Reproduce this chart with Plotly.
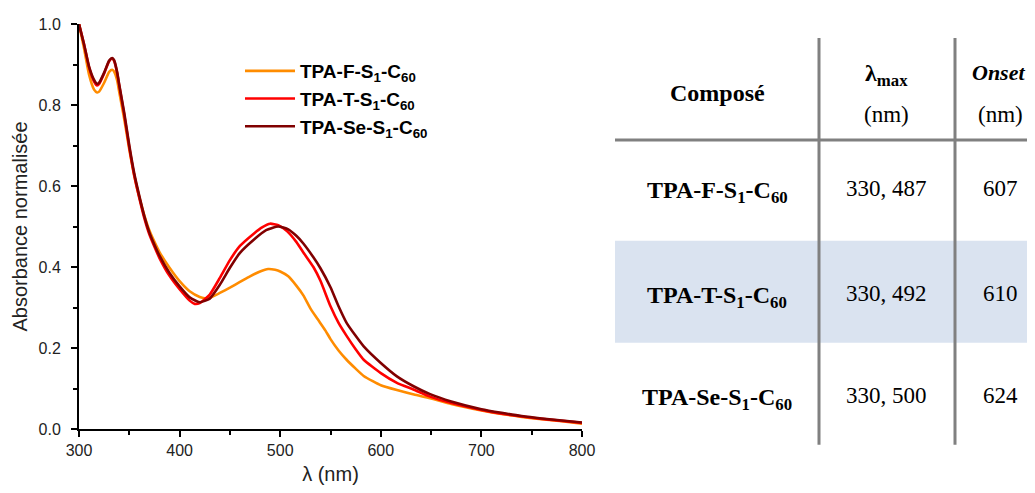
import plotly.graph_objects as go

# ---------------- data ----------------
wl_F = [300, 305, 310, 315, 318, 320, 325, 330, 333, 335, 338, 340, 345, 350, 355, 360, 365, 370, 375, 380,
        390, 400, 410, 420, 425, 430, 440, 450, 460, 470, 480, 488, 495, 500, 508, 516, 523, 530, 537, 545,
        550, 558, 566, 575, 583, 592, 600, 616, 633, 649, 670, 700, 720, 740, 760, 780, 800]
abs_F = [1.0, 0.94, 0.875, 0.838, 0.831, 0.833, 0.855, 0.882, 0.887, 0.882, 0.86, 0.832, 0.765, 0.69, 0.625,
         0.572, 0.527, 0.49, 0.462, 0.437, 0.398, 0.365, 0.34, 0.326, 0.323, 0.324, 0.336, 0.349, 0.363, 0.377,
         0.389, 0.395, 0.393, 0.389, 0.377, 0.354, 0.330, 0.298, 0.272, 0.243, 0.222, 0.194, 0.171, 0.149,
         0.131, 0.118, 0.108, 0.096, 0.085, 0.076, 0.062, 0.046, 0.037, 0.030, 0.024, 0.019, 0.013]

wl_T = [300, 305, 310, 315, 318, 320, 325, 330, 333, 335, 338, 340, 345, 350, 355, 360, 365, 370, 375, 380,
        390, 400, 410, 415, 420, 430, 440, 450, 460, 474, 482, 490, 498, 507, 516, 523, 533, 540, 550,
        558, 566, 575, 583, 600, 616, 633, 649, 670, 700, 720, 740, 760, 780, 800]
abs_T = [1.0, 0.95, 0.893, 0.858, 0.848, 0.852, 0.878, 0.908, 0.915, 0.908, 0.878, 0.848, 0.775, 0.695, 0.625,
         0.57, 0.52, 0.48, 0.45, 0.422, 0.378, 0.345, 0.317, 0.309, 0.311, 0.332, 0.373, 0.417, 0.452, 0.483,
         0.498, 0.507, 0.503, 0.488, 0.462, 0.436, 0.400, 0.366, 0.303, 0.262, 0.230, 0.197, 0.171, 0.138,
         0.114, 0.097, 0.080, 0.064, 0.047, 0.038, 0.031, 0.025, 0.020, 0.015]

wl_Se = [300, 305, 310, 315, 318, 320, 325, 330, 333, 335, 338, 340, 345, 350, 355, 360, 365, 370, 375, 380,
         390, 400, 410, 420, 430, 440, 450, 460, 474, 486, 498, 508, 516, 523, 533, 540, 550,
         558, 566, 575, 583, 600, 616, 633, 649, 670, 700, 720, 740, 760, 780, 800]
abs_Se = [1.0, 0.95, 0.895, 0.862, 0.852, 0.855, 0.88, 0.91, 0.916, 0.91, 0.88, 0.85, 0.78, 0.70, 0.63,
          0.575, 0.525, 0.485, 0.455, 0.428, 0.385, 0.352, 0.325, 0.313, 0.322, 0.356, 0.398, 0.435, 0.468,
          0.491, 0.500, 0.493, 0.477, 0.458, 0.424, 0.397, 0.350, 0.303, 0.262, 0.230, 0.204, 0.163, 0.130,
          0.105, 0.086, 0.068, 0.049, 0.040, 0.032, 0.026, 0.021, 0.016]

series_names = ["TPA-F-S<sub>1</sub>-C<sub>60</sub>",
                "TPA-T-S<sub>1</sub>-C<sub>60</sub>",
                "TPA-Se-S<sub>1</sub>-C<sub>60</sub>"]
series_colors = ["#FF8C00", "#FF0000", "#800000"]

# table content
table_header = ["Composé", "λ<sub>max</sub>", "<i>Onset</i>"]
table_units = ["", "(nm)", "(nm)"]
compounds = ["TPA-F-S<sub>1</sub>-C<sub>60</sub>",
             "TPA-T-S<sub>1</sub>-C<sub>60</sub>",
             "TPA-Se-S<sub>1</sub>-C<sub>60</sub>"]
lambda_max = ["330, 487", "330, 492", "330, 500"]
onset = ["607", "610", "624"]

# ---------------- figure ----------------
OFF = 8                      # default page body margin
W, H = 1035 - 2 * OFF, 493 - 2 * OFF
L, R, T = 79 - OFF, 0, 24 - OFF
plot_right = 582 - OFF
plot_bottom = 429.3 - OFF
B = H - plot_bottom
dom_end = (plot_right - L) / (W - L - R)
ph = H - T - B

def px_x(p):                 # page pixel -> paper x
    return min((p - OFF - L) / (W - L - R), 1.0)

def px_y(p):                 # page pixel -> paper y
    return (H - B - (p - OFF)) / ph

fig = go.Figure()
for i, (wl, ab, nm, col) in enumerate(zip([wl_F, wl_T, wl_Se], [abs_F, abs_T, abs_Se],
                                            series_names, series_colors)):
    fig.add_trace(go.Scatter(x=wl, y=ab, mode="lines", name=nm, legendgroup="g%d" % i,
                             line=dict(color=col, width=2.6, shape="spline", smoothing=0.5)))

axis_common = dict(showline=True, linecolor="black", linewidth=2, ticks="outside", ticklen=6,
                   tickwidth=2, tickcolor="black", showgrid=False, zeroline=False, automargin=False,
                   tickfont=dict(family="Liberation Sans, Arial", size=16, color="#222"))

fig.update_layout(
    width=W, height=H,
    margin=dict(l=L, r=R, t=T, b=B, autoexpand=False),
    paper_bgcolor="white", plot_bgcolor="white",
    showlegend=True,
    legend=dict(x=px_x(240), y=px_y(52), xanchor="left", yanchor="top",
                bgcolor="rgba(0,0,0,0)", borderwidth=0, itemwidth=50,
                font=dict(family="Liberation Sans, Arial", size=19, color="black", weight="bold"),
                tracegroupgap=0),
    xaxis=dict(domain=[0, dom_end], range=[300, 800], dtick=100,
               minor=dict(dtick=50, ticks="outside", ticklen=4, tickwidth=2, tickcolor="black"),
               title=dict(text="λ (nm)", font=dict(family="Liberation Sans, Arial", size=20, color="#222"),
                          standoff=15),
               **axis_common),
    yaxis=dict(range=[0, 1.0], dtick=0.2, tickformat=".1f", ticklabelstandoff=7,
               minor=dict(dtick=0.1, ticks="outside", ticklen=4, tickwidth=2, tickcolor="black"),
               title=dict(text="Absorbance normalisée",
                          font=dict(family="Liberation Sans, Arial", size=20, color="#222"), standoff=6),
               **axis_common),
)

# ---- table ----
tx0, tx1 = px_x(615), px_x(1035)
shapes = [
    dict(type="rect", xref="paper", yref="paper", x0=tx0, x1=tx1, y0=px_y(343), y1=px_y(241),
         fillcolor="#DAE3F0", line=dict(width=0), layer="below"),
    dict(type="line", xref="paper", yref="paper", x0=tx0, x1=tx1, y0=px_y(140), y1=px_y(140),
         line=dict(color="#808080", width=3)),
    dict(type="line", xref="paper", yref="paper", x0=px_x(819), x1=px_x(819), y0=px_y(445), y1=px_y(38),
         line=dict(color="#808080", width=3)),
    dict(type="line", xref="paper", yref="paper", x0=px_x(955), x1=px_x(955), y0=px_y(445), y1=px_y(38),
         line=dict(color="#808080", width=3)),
]
fig.update_layout(shapes=shapes)

serif = "Liberation Serif, Times New Roman, serif"
col_x = [px_x(717), px_x(886), px_x(1000)]
ann = []
ann.append(dict(text="<b>" + table_header[0] + "</b>", x=col_x[0], y=px_y(93), size=24))
ann.append(dict(text="<b>" + table_header[1] + "</b>", x=col_x[1], y=px_y(75), size=24))
ann.append(dict(text="<b>" + table_header[2] + "</b>", x=1.0, y=px_y(73), size=22, xanchor="right"))
ann.append(dict(text=table_units[1], x=col_x[1], y=px_y(115), size=23))
ann.append(dict(text=table_units[2], x=col_x[2], y=px_y(115), size=23))
row_y = [192, 297, 399]
for i in range(3):
    ann.append(dict(text="<b>" + compounds[i] + "</b>", x=col_x[0], y=px_y(row_y[i]), size=24))
    ann.append(dict(text=lambda_max[i], x=col_x[1], y=px_y(row_y[i] - 3), size=23))
    ann.append(dict(text=onset[i], x=col_x[2], y=px_y(row_y[i] - 3), size=23))
for a in ann:
    sz = a.pop("size")
    xa = a.pop("xanchor", "center")
    a.update(xref="paper", yref="paper", showarrow=False, xanchor=xa, yanchor="middle",
             font=dict(family=serif, size=sz, color="black"))
    fig.add_annotation(**a)

fig.write_html("out.html")
